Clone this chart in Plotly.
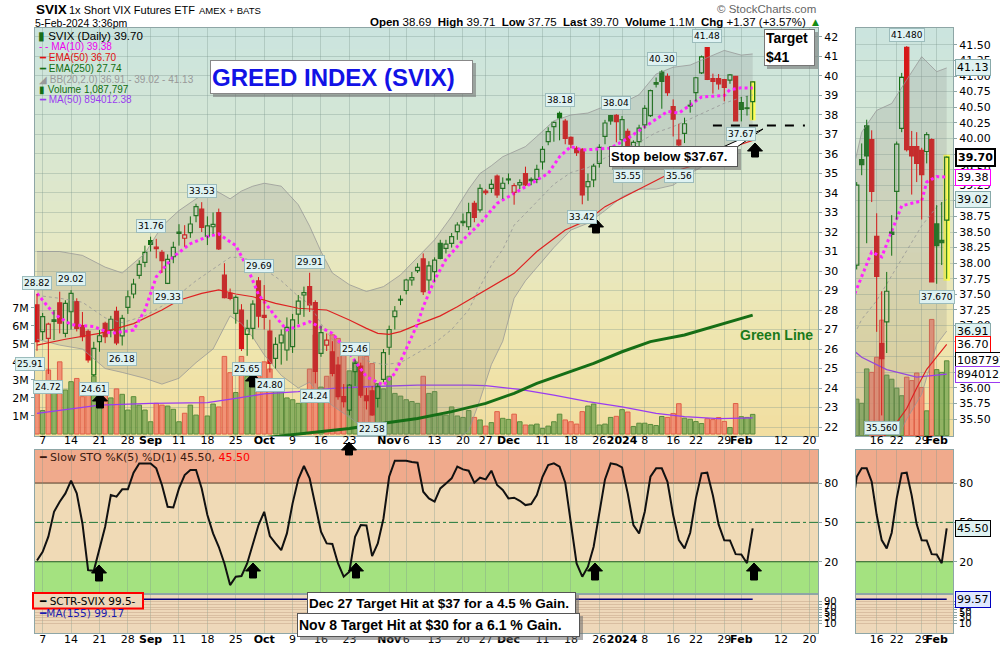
import plotly.graph_objects as go

# ---------------- data: trading-day index 0 = 4-Aug-2023 ... 126 = 5-Feb-2024 ----------------
opens = [28.26, 26.89, 26.55, 27.50, 28.37, 26.80, 27.91, 28.43, 27.20, 26.90,
         24.67, 26.38, 27.32, 26.97, 27.93, 26.67, 28.14, 28.82, 29.78, 30.44,
         31.56, 31.22, 30.96, 29.37, 30.73, 32.00, 31.68, 31.97, 32.84, 33.18,
         31.79, 32.27, 32.99, 29.79, 28.85, 27.83, 28.00, 26.75, 27.06, 29.49,
         27.72, 26.92, 25.52, 26.32, 25.95, 26.12, 27.79, 28.77, 29.20, 28.38,
         25.78, 26.20, 25.86, 25.18, 23.56, 22.87, 24.84, 25.13, 23.60, 23.85,
         23.47, 24.44, 26.09, 27.66, 28.55, 29.00, 29.54, 30.02, 30.62, 29.54,
         29.97, 31.42, 31.16, 31.42, 32.02, 32.55, 32.27, 33.47, 33.13, 34.10,
         34.24, 34.87, 34.24, 34.72, 34.03, 34.41, 35.00, 34.70, 34.70, 35.60,
         36.63, 37.40, 38.08, 37.69, 36.85, 36.29, 36.24, 34.32, 34.67, 35.52,
         36.90, 37.97, 37.98, 36.73, 37.16, 35.90, 36.63, 37.49, 37.97, 39.66,
         40.20, 39.98, 38.43, 36.71, 37.06, 38.50, 39.15, 40.16, 41.46, 39.87,
         39.87, 39.81, 39.79, 39.98, 38.63, 38.36, 38.69]
highs = [28.82, 27.85, 27.35, 28.00, 28.94, 28.50, 29.02, 28.60, 27.90, 27.00,
         26.37, 26.97, 27.40, 27.70, 28.17, 27.75, 29.00, 29.60, 30.55, 31.30,
         31.76, 31.65, 31.08, 30.85, 31.50, 32.40, 32.35, 32.80, 33.45, 33.53,
         32.80, 33.00, 33.20, 30.40, 29.10, 28.75, 28.30, 27.50, 28.50, 29.69,
         29.28, 27.50, 26.60, 27.00, 27.62, 27.80, 28.77, 29.20, 29.91, 28.50,
         27.20, 26.80, 26.40, 25.60, 24.20, 24.20, 25.46, 25.30, 24.00, 24.10,
         24.20, 26.00, 27.20, 28.20, 28.75, 29.60, 29.95, 30.40, 30.90, 30.50,
         30.70, 31.60, 31.60, 31.95, 32.50, 32.95, 33.50, 33.60, 34.45, 34.20,
         34.70, 34.95, 34.80, 35.00, 34.50, 34.70, 35.35, 34.80, 35.45, 36.40,
         37.37, 37.66, 38.18, 37.80, 36.90, 36.40, 36.30, 35.00, 35.50, 36.50,
         37.75, 38.00, 38.04, 37.95, 37.30, 36.70, 37.50, 38.50, 39.30, 39.92,
         40.30, 40.13, 38.80, 37.55, 37.86, 38.77, 39.95, 41.05, 41.48, 40.12,
         40.10, 39.85, 40.10, 40.00, 38.93, 38.98, 39.71]
lows = [25.91, 26.46, 24.72, 26.46, 26.80, 26.60, 27.00, 26.90, 26.40, 25.30,
        24.61, 25.86, 26.30, 26.60, 26.20, 26.18, 27.80, 28.60, 29.60, 30.20,
        31.00, 30.65, 29.90, 29.33, 30.40, 31.30, 31.25, 31.70, 32.50, 32.00,
        31.33, 31.90, 31.08, 28.60, 28.50, 27.30, 25.90, 25.65, 26.50, 27.10,
        27.00, 24.80, 25.00, 25.20, 25.40, 25.80, 27.28, 27.65, 27.90, 24.24,
        25.60, 25.90, 24.60, 23.40, 23.00, 22.60, 24.10, 23.50, 22.90, 22.58,
        23.00, 24.30, 25.70, 27.00, 28.25, 28.80, 29.25, 29.90, 28.77, 29.00,
        29.45, 30.60, 30.90, 31.20, 31.60, 32.30, 32.10, 32.50, 33.00, 33.90,
        34.00, 33.75, 33.70, 34.45, 33.40, 34.20, 34.35, 34.40, 34.50, 35.20,
        36.45, 36.63, 36.70, 36.50, 36.30, 35.90, 33.42, 33.60, 34.30, 35.30,
        36.50, 37.50, 36.60, 36.30, 35.55, 35.70, 36.40, 37.30, 37.90, 39.41,
        38.32, 38.98, 36.90, 35.56, 36.56, 38.12, 38.70, 40.10, 39.79, 39.10,
        39.30, 38.70, 39.60, 37.70, 37.67, 37.97, 37.75]
closes = [26.38, 27.66, 27.28, 27.42, 27.32, 28.34, 28.85, 27.06, 26.63, 25.44,
          26.03, 26.68, 26.63, 27.52, 26.32, 27.57, 28.68, 29.33, 30.34, 30.96,
          31.37, 31.15, 30.53, 30.60, 31.21, 31.93, 31.85, 32.41, 33.30, 32.24,
          32.31, 32.39, 31.13, 28.63, 28.60, 28.65, 26.03, 27.06, 28.30, 27.69,
          27.62, 25.26, 26.24, 26.72, 27.11, 27.49, 28.46, 28.89, 28.26, 24.85,
          26.84, 26.46, 24.75, 23.56, 23.30, 24.15, 25.26, 23.64, 23.35, 22.62,
          24.07, 25.81, 27.00, 27.95, 28.50, 29.54, 29.66, 30.19, 28.94, 30.26,
          30.56, 30.65, 31.38, 31.76, 32.36, 32.48, 32.99, 32.75, 34.24, 34.02,
          34.44, 33.90, 34.50, 34.67, 34.38, 34.53, 34.41, 34.63, 35.21, 36.24,
          37.15, 37.62, 37.85, 36.80, 36.51, 36.07, 33.90, 34.58, 35.38, 36.34,
          37.59, 37.70, 37.66, 37.76, 36.20, 36.60, 37.33, 38.34, 39.25, 39.58,
          39.72, 39.15, 37.79, 36.47, 37.55, 38.46, 39.91, 40.98, 39.82, 39.72,
          39.60, 39.42, 40.06, 37.70, 38.28, 38.33, 39.70]
# daily volume, millions of shares
volume_m = [2.6, 1.3, 3.55, 2.35, 4.0, 2.44, 2.9, 3.08, 2.07, 2.44,
            3.2, 1.5, 2.6, 2.0, 2.5, 2.2, 1.33, 2.07, 1.6, 1.33,
            0.68, 1.7, 1.6, 1.55, 1.37, 0.68, 1.15, 1.6, 1.05, 2.07,
            1.0, 1.66, 1.5, 4.3, 3.4, 2.3, 4.3, 3.2, 3.8, 3.5,
            4.0, 3.6, 2.4, 2.4, 2.0, 1.9, 1.7, 2.0, 3.6, 5.5,
            2.6, 3.2, 5.5, 5.3, 4.8, 3.5, 4.0, 4.4, 4.3, 3.9,
            2.8, 2.5, 3.2, 2.25, 2.1, 1.9, 1.8, 1.7, 3.2, 2.25,
            2.35, 1.05, 1.05, 1.5, 1.0, 0.92, 1.3, 0.92, 0.78, 0.44,
            0.63, 1.24, 0.87, 0.81, 1.1, 0.68, 0.5, 0.5, 0.55, 0.31,
            0.44, 0.68, 1.1, 0.78, 0.68, 0.55, 1.24, 1.55, 1.66, 0.5,
            0.55, 0.92, 0.98, 1.35, 1.22, 0.42, 0.6, 0.6, 0.53, 0.47,
            0.97, 0.92, 1.14, 1.68, 0.88, 0.82, 0.69, 0.58, 0.85, 0.8,
            0.91, 0.7, 0.36, 1.69, 0.96, 0.92, 1.087797]
# Slow stochastic %K(5) %D(1)
sto_k = [21.0, 27.6, 39.1, 58.1, 65.8, 72.1, 81.8, 72.1, 49.2, 13.6,
         13.1, 28.9, 46.7, 70.8, 69.6, 75.2, 75.2, 87.9, 95.0, 95.0,
         95.0, 91.2, 78.5, 61.9, 61.4, 75.9, 86.1, 89.9, 89.9, 75.9,
         55.6, 41.6, 31.4, 18.7, 2.2, 8.6, 9.1, 18.7, 32.7, 48.0,
         58.1, 39.6, 34.0, 28.9, 41.6, 64.5, 82.8, 93.0, 83.6, 61.9,
         42.9, 34.0, 33.5, 18.7, 8.6, 12.4, 39.1, 48.0, 47.7, 24.3,
         34.0, 53.0, 84.8, 97.0, 97.0, 97.0, 96.0, 95.5, 73.4, 68.3,
         65.8, 75.9, 79.7, 83.6, 92.5, 90.4, 89.4, 80.3, 84.1, 82.8,
         89.4, 78.5, 74.7, 68.3, 68.8, 66.5, 63.2, 64.0, 70.8, 84.8,
         93.7, 95.0, 92.5, 80.3, 49.2, 18.7, 8.6, 16.2, 31.4, 58.1,
         82.8, 95.0, 94.2, 91.9, 72.1, 48.0, 41.6, 58.1, 84.8, 91.2,
         91.2, 81.0, 55.6, 36.5, 30.2, 42.1, 68.3, 87.4, 87.9, 70.5,
         48.5, 36.3, 36.2, 25.8, 25.5, 18.9, 45.5]

# overlays, sampled at selected trading days
ma10_idx = [0, 3, 6, 10, 13, 17, 19, 21, 24, 27, 30, 32, 35, 37, 39, 42, 44, 46, 48, 50,
            52, 55, 58, 61, 63, 65, 67, 68, 70, 72, 75, 78, 81, 84, 87, 90, 92, 94, 96, 98,
            101, 104, 106, 108, 110, 111, 113, 115, 117, 119, 121, 122, 124, 126]
ma10_val = [28.85, 27.8, 27.25, 27.15, 26.8, 26.97, 28.0, 29.7, 30.73, 31.4, 31.76, 31.9, 31.3, 30.2,
            28.8, 27.66, 26.97, 27.2, 27.4, 27.1, 26.8, 25.78, 24.58, 24.15, 24.75, 26.0, 27.3,
            28.17, 29.54, 30.6, 31.59, 32.44, 33.47, 33.98, 34.5, 35.0, 35.86, 36.38, 36.2, 36.24,
            36.3, 36.8, 37.2, 37.57, 38.0, 38.18, 38.1, 38.5, 38.92, 38.96, 39.0, 39.3, 39.39, 39.38]
ema50_idx = [0, 5, 11, 17, 22, 25, 29, 32, 35, 38, 42, 46, 51, 55, 58, 60, 62, 64, 67, 71,
             74, 79, 84, 88, 93, 97, 100, 104, 108, 112, 116, 118, 120, 122, 124, 126]
ema50_val = [26.2, 26.5, 26.8, 27.3, 28.0, 28.5, 28.85, 29.03, 28.82, 28.68, 28.34, 28.09, 28.0,
             27.49, 27.06, 26.8, 26.75, 26.89, 27.25, 27.7, 28.17, 29.03, 29.88, 31.0, 32.1, 32.62,
             33.3, 33.9, 34.5, 35.09, 35.45, 35.67, 36.0, 36.3, 36.5, 36.70]
ema250_idx = [40, 46, 50, 55, 61, 67, 73, 79, 84, 88, 93, 98, 103, 108, 114, 120, 126]
ema250_val = [21.45, 21.65, 21.76, 21.93, 22.19, 22.44, 22.79, 23.21, 23.73, 24.24, 24.75, 25.26,
              25.86, 26.38, 26.72, 27.23, 27.74]
bb_idx = [0, 4, 8, 12, 15, 19, 22, 25, 28, 31, 34, 36, 38, 40, 43, 46, 48, 50, 52, 55, 58, 61,
          64, 67, 70, 73, 76, 78, 80, 82, 84, 86, 88, 91, 94, 97, 100, 103, 106, 109, 112, 115,
          118, 121, 124, 126]
bb_upper = [31.0, 31.0, 30.8, 30.2, 29.9, 30.9, 32.3, 33.1, 33.7, 34.2, 33.7, 34.1, 34.35, 34.5,
            34.35, 33.4, 32.3, 31.0, 29.9, 29.3, 28.95, 29.2, 29.8, 30.7, 31.6, 32.8, 34.2, 35.0,
            35.4, 35.86, 36.1, 36.38, 36.9, 37.7, 38.0, 38.1, 38.45, 38.6, 39.04, 40.1, 40.45,
            40.56, 40.94, 41.31, 41.07, 41.13]
bb_mid = [28.75, 28.6, 28.4, 27.6, 27.35, 27.7, 28.2, 28.8, 29.5, 30.1, 30.7, 30.7, 30.5, 30.1,
          29.5, 28.7, 28.3, 27.3, 26.5, 25.9, 25.4, 25.2, 25.3, 25.8, 26.3, 27.0, 28.0, 29.2,
          30.3, 31.1, 32.35, 32.95, 33.55, 34.45, 35.05, 35.3, 35.8, 36.2, 36.6, 37.1, 37.4,
          37.8, 38.2, 38.6, 38.9, 39.02]
bb_lower = [26.5, 26.2, 26.0, 25.0, 24.8, 24.5, 24.2, 24.5, 25.3, 26.0, 27.7, 27.3, 26.6, 25.7,
            24.65, 24.0, 24.3, 23.6, 23.1, 22.5, 21.85, 21.2, 20.8, 20.9, 21.0, 21.2, 21.8, 23.4,
            25.2, 26.4, 28.6, 29.5, 30.2, 31.2, 32.1, 32.45, 33.1, 33.8, 34.2, 34.2, 34.4, 35.0,
            35.5, 35.9, 36.7, 36.91]
vol_ma_idx = [0, 11, 20, 30, 35, 40, 46, 52, 58, 64, 67, 76, 79, 85, 91, 97, 103, 109, 114, 120, 126]
vol_ma_val = [1.14, 1.6, 1.7, 1.74, 1.98, 2.22, 2.35, 2.53, 2.62, 2.68, 2.71, 2.71, 2.68, 2.47,
              2.16, 1.79, 1.51, 1.14, 0.96, 0.85, 0.89401238]
sctr_idx = [0, 30, 60, 90, 126]
sctr_val = [99.5, 99.5, 99.5, 99.5, 99.5]

tick_idx = [1, 6, 11, 16, 20, 25, 30, 35, 40, 45, 50, 55, 62, 65, 70, 75, 79, 83, 89, 94, 99,
            103, 107, 112, 116, 121, 124, 131, 136]
tick_lbl = ['7', '14', '21', '28', 'Sep', '11', '18', '25', 'Oct', '9', '16', '23', 'Nov', '6',
            '13', '20', '27', 'Dec', '11', '18', '26', '2024', '8', '16', '22', '29', 'Feb', '12', '20']
mini_tick_idx = [112, 116, 121, 124]
mini_tick_lbl = ['16', '22', '29', 'Feb']

label_high_idx = [0, 6, 20, 29, 39, 48, 56, 92, 102, 110, 118]
label_low_idx = [0, 2, 10, 15, 23, 37, 41, 49, 59, 96, 104, 113, 124]
STOP = 37.67

# ---------------- geometry helpers ----------------
W, H = 1000, 650
def px(x): return x / W
def py(y): return 1 - y / H

MX = [px(35), px(818)]
MY = [py(436), py(28)]
STY = [py(594), py(450)]
SCY = [py(633), py(594)]
NX = [px(855.7), px(953)]

GREEN = 'rgb(20,112,20)'
RED = 'rgb(214,24,24)'
N = len(closes)
MONTHS = {'Sep', 'Oct', 'Nov', 'Dec', '2024', 'Feb'}

def bold_months(lbls):
    return ['<b>%s</b>' % t if t in MONTHS else t for t in lbls]

fig = go.Figure()

# ---------------- volume bars ----------------
def vol_bars(idx, xa, ya, width):
    fills, edges = [], []
    for i in idx:
        up = closes[i] >= (closes[i - 1] if i > 0 else opens[i])
        fills.append('rgba(128,170,88,0.85)' if up else 'rgba(240,136,110,0.88)')
        edges.append('rgb(92,140,60)' if up else 'rgb(224,96,72)')
    fig.add_trace(go.Bar(x=list(idx), y=[volume_m[i] for i in idx], width=width,
                         marker=dict(color=fills, line=dict(color=edges, width=1)),
                         xaxis=xa, yaxis=ya, hoverinfo='skip'))

# ---------------- candles (bodies as floating bars, wicks as segments) ----------------
def candles(idx, xa, ya, width):
    base, hgt, fills, edges = [], [], [], []
    wick = {GREEN: ([], []), RED: ([], [])}
    for i in idx:
        o, h, l, c = opens[i], highs[i], lows[i], closes[i]
        prev = closes[i - 1] if i > 0 else o
        col = GREEN if c >= prev else RED
        top, bot = max(o, c), min(o, c)
        base.append(bot)
        hgt.append(max(top - bot, 0.035))
        fills.append(col if c < o else 'rgba(0,0,0,0)')
        edges.append(col)
        wx, wy = wick[col]
        wx += [i, i, None, i, i, None]
        wy += [h, top, None, bot, l, None]
    for col, (wx, wy) in wick.items():
        fig.add_trace(go.Scatter(x=wx, y=wy, mode='lines', line=dict(color=col, width=1),
                                 xaxis=xa, yaxis=ya, hoverinfo='skip'))
    fig.add_trace(go.Bar(x=list(idx), y=hgt, base=base, width=width,
                         marker=dict(color=fills, line=dict(color=edges, width=1.2)),
                         xaxis=xa, yaxis=ya, hoverinfo='skip'))

def highlight_last(xa, ya, width):
    # yellow marker column behind the latest session's range
    last = N - 1
    fig.add_trace(go.Bar(x=[last], y=[highs[last] - lows[last] + 0.06], base=[lows[last] - 0.03],
                         width=width, marker=dict(color='#ffff55', line=dict(width=0)),
                         xaxis=xa, yaxis=ya, hoverinfo='skip'))

def overlays(xa, ya, lo=0):
    def sel(ix, vals):
        pts = [(i, v) for i, v in zip(ix, vals) if i >= lo - 3]
        return [p[0] for p in pts], [p[1] for p in pts]
    x, y = sel(bb_idx, bb_upper)
    fig.add_trace(go.Scatter(x=x, y=y, mode='lines', line=dict(color='rgba(150,150,150,0.75)', width=1),
                             xaxis=xa, yaxis=ya, hoverinfo='skip'))
    x, y = sel(bb_idx, bb_lower)
    fig.add_trace(go.Scatter(x=x, y=y, mode='lines', line=dict(color='rgba(150,150,150,0.75)', width=1),
                             fill='tonexty', fillcolor='rgba(130,130,130,0.2)',
                             xaxis=xa, yaxis=ya, hoverinfo='skip'))
    x, y = sel(bb_idx, bb_mid)
    fig.add_trace(go.Scatter(x=x, y=y, mode='lines', line=dict(color='rgba(150,150,150,0.8)', width=1, dash='dot'),
                             xaxis=xa, yaxis=ya, hoverinfo='skip'))
    x, y = sel(ema250_idx, ema250_val)
    fig.add_trace(go.Scatter(x=x, y=y, mode='lines', line=dict(color='rgb(22,110,22)', width=3),
                             xaxis=xa, yaxis=ya, hoverinfo='skip'))
    x, y = sel(ema50_idx, ema50_val)
    fig.add_trace(go.Scatter(x=x, y=y, mode='lines', line=dict(color='rgb(222,34,34)', width=1.2),
                             xaxis=xa, yaxis=ya, hoverinfo='skip'))
    x, y = sel(ma10_idx, ma10_val)
    fig.add_trace(go.Scatter(x=x, y=y, mode='lines', line=dict(color='#ff22ff', width=3, dash='dot'),
                             xaxis=xa, yaxis=ya, hoverinfo='skip'))

# main panel
vol_bars(range(N), 'x', 'y', 0.8)
fig.add_trace(go.Scatter(x=vol_ma_idx, y=vol_ma_val, mode='lines', line=dict(color='#9a3cf0', width=1.3),
                         xaxis='x', yaxis='y', hoverinfo='skip'))
overlays('x', 'y2')
highlight_last('x', 'y2', 1.0)
candles(range(N), 'x', 'y2', 0.7)

# mini panel (last weeks, enlarged)
MINI = range(107, N)
vol_bars(MINI, 'x4', 'y5', 0.9)
fig.add_trace(go.Scatter(x=vol_ma_idx, y=vol_ma_val, mode='lines', line=dict(color='#9a3cf0', width=1.3),
                         xaxis='x4', yaxis='y5', hoverinfo='skip'))
overlays('x4', 'y6', lo=107)
highlight_last('x4', 'y6', 1.3)
candles(MINI, 'x4', 'y6', 0.85)

# stochastic
fig.add_trace(go.Scatter(x=list(range(N)), y=sto_k, mode='lines', line=dict(color='#111', width=2),
                         xaxis='x2', yaxis='y3', hoverinfo='skip'))
fig.add_trace(go.Scatter(x=list(range(N)), y=sto_k, mode='lines', line=dict(color='#111', width=2),
                         xaxis='x5', yaxis='y7', hoverinfo='skip'))
# SCTR
fig.add_trace(go.Scatter(x=sctr_idx, y=sctr_val, mode='lines', line=dict(color='#000080', width=1.4),
                         xaxis='x3', yaxis='y4', hoverinfo='skip'))
fig.add_trace(go.Scatter(x=sctr_idx, y=sctr_val, mode='lines', line=dict(color='#000080', width=1.4),
                         xaxis='x6', yaxis='y8', hoverinfo='skip'))

# ---------------- shapes ----------------
shapes = []
GRAD = [(0.0, (242, 222, 160)), (0.26, (238, 230, 176)), (0.5, (228, 232, 198)),
        (0.77, (212, 230, 213)), (1.0, (203, 228, 222))]
def grad_color(t):
    for (t0, c0), (t1, c1) in zip(GRAD[:-1], GRAD[1:]):
        if t <= t1:
            f = (t - t0) / (t1 - t0)
            return 'rgb(%d,%d,%d)' % tuple(round(a + (b - a) * f) for a, b in zip(c0, c1))
    return 'rgb(%d,%d,%d)' % GRAD[-1][1]

NB = 40
for xr, yr in (('x domain', 'y domain'), ('x4 domain', 'y5 domain')):
    for k in range(NB):
        shapes.append(dict(type='rect', xref=xr, yref=yr, x0=0, x1=1, y0=k / NB, y1=(k + 1) / NB + 0.002,
                           fillcolor=grad_color((k + 0.5) / NB), line=dict(width=0), layer='below'))

for xr, yr in (('x2 domain', 'y3'), ('x5 domain', 'y7')):
    shapes.append(dict(type='rect', xref=xr, yref=yr, x0=0, x1=1, y0=80, y1=105.2,
                       fillcolor='rgb(240,170,140)', line=dict(width=0), layer='below'))
    shapes.append(dict(type='rect', xref=xr, yref=yr, x0=0, x1=1, y0=20, y1=80,
                       fillcolor='rgb(240,218,182)', line=dict(width=0), layer='below'))
    shapes.append(dict(type='rect', xref=xr, yref=yr, x0=0, x1=1, y0=-4.6, y1=20,
                       fillcolor='rgb(164,226,128)', line=dict(width=0), layer='below'))
    shapes.append(dict(type='line', xref=xr, yref=yr, x0=0, x1=1, y0=80, y1=80,
                       line=dict(color='rgb(80,60,40)', width=1), layer='below'))
    shapes.append(dict(type='line', xref=xr, yref=yr, x0=0, x1=1, y0=20, y1=20,
                       line=dict(color='rgb(30,90,30)', width=1), layer='below'))
    shapes.append(dict(type='line', xref=xr, yref=yr, x0=0, x1=1, y0=50, y1=50,
                       line=dict(color='rgb(30,120,60)', width=1, dash='dashdot'), layer='below'))
for xr, yr in (('x3 domain', 'y4 domain'), ('x6 domain', 'y8 domain')):
    shapes.append(dict(type='rect', xref=xr, yref=yr, x0=0, x1=1, y0=0, y1=1,
                       fillcolor='rgb(238,216,186)', line=dict(width=0), layer='below'))

# stop level
shapes.append(dict(type='line', xref='x', yref='y2', x0=119, x1=135.2, ysizemode='pixel', yanchor=STOP,
                   y0=-4, y1=-4, line=dict(color='black', width=2, dash='dash')))

def P(x, y):
    return '%.5f,%.5f' % (px(x), py(y))

def arrow(cx, top, bot):
    hw, sw, hh = 7.5, 3.5, 8
    pts = [(cx, top), (cx + hw, top + hh), (cx + sw, top + hh), (cx + sw, bot), (cx - sw, bot),
           (cx - sw, top + hh), (cx - hw, top + hh)]
    shapes.append(dict(type='path', xref='paper', yref='paper',
                       path='M ' + ' L '.join(P(*p) for p in pts) + ' Z',
                       fillcolor='black', line=dict(color='black', width=1)))

for a in [(100, 393, 408), (253, 373, 387), (349, 442, 455), (596, 219, 233), (755, 143, 157),
          (99, 565, 581), (253, 563, 578), (356, 563, 578), (595, 563, 580), (754, 563, 580)]:
    arrow(*a)

def shadow(x0, y0, x1, y1):
    shapes.append(dict(type='rect', xref='paper', yref='paper', x0=px(x0 + 3), x1=px(x1 + 3),
                       y0=py(y1 + 3), y1=py(y0 + 3), fillcolor='rgba(110,110,110,0.55)',
                       line=dict(width=0)))

shadow(210, 60, 473, 94)
shadow(764, 29, 815, 66)
shadow(609, 146, 738, 167)
shadow(307, 592, 576, 614)
shadow(297, 613, 580, 637)
# callout pointer of the stop note
shapes.append(dict(type='path', xref='paper', yref='paper',
                   path='M %s L %s L %s Z' % (P(723, 147), P(763, 129), P(737, 147)),
                   fillcolor='white', line=dict(color='black', width=1)))
# red frame round the SCTR caption
shapes.append(dict(type='rect', xref='paper', yref='paper', x0=px(33), x1=px(143), y0=py(608.5),
                   y1=py(593), line=dict(color='red', width=2), fillcolor='rgb(238,216,186)'))

# ---------------- annotations ----------------
ann = []
SANS = 'Liberation Sans'

def txt(x, y, s, size=11, color='black', family='DejaVu Sans', xanchor='left', **kw):
    d = dict(x=px(x), y=py(y), xref='paper', yref='paper', text=s, showarrow=False,
             font=dict(size=size, color=color, family=family), xanchor=xanchor, yanchor='middle')
    d.update(kw)
    ann.append(d)

def box(cx, cy, s, size, w, h, color='black', border='#555'):
    ann.append(dict(x=px(cx), y=py(cy), xref='paper', yref='paper', text=s, showarrow=False,
                    xanchor='center', yanchor='middle', align='left',
                    font=dict(size=size, color=color, family=SANS), bgcolor='white',
                    bordercolor=border, borderwidth=1, width=w, height=h, borderpad=1))

txt(34, 9.5, '<b>SVIX</b>', 13.5, family=SANS)
txt(67, 10, '1x Short VIX Futures ETF', 11, family=SANS)
txt(197, 10.5, 'AMEX + BATS', 9.5, family=SANS)
txt(33, 23, '5-Feb-2024 3:36pm', 10.5, family=SANS)
chg = closes[-1] - closes[-2]
txt(808, 22.5, '<b>Open</b> %.2f  <b>High</b> %.2f  <b>Low</b> %.2f  <b>Last</b> %.2f  <b>Volume</b> %.1fM  '
    '<b>Chg</b> %+.2f (%+.2f%%)' % (opens[-1], highs[-1], lows[-1], closes[-1], volume_m[-1], chg,
                                    chg / closes[-2] * 100), 11.5, family=SANS, xanchor='right')
txt(810, 22, '▲', 9, color='rgb(20,140,20)', family='DejaVu Sans')
txt(818, 9.5, '© StockCharts.com', 11.5, color='#666', family=SANS, xanchor='right')

# in-chart legend
LEG = 10
txt(36, 35.5, '<span style="color:#1a6e1a">▮</span> SVIX (Daily) %.2f' % closes[-1], 11.5, family=SANS)
txt(37, 46.5, '- - MA(10) %.2f' % ma10_val[-1], LEG, color='#ee00ee', family=SANS)
txt(37, 57.3, '━ EMA(50) %.2f' % ema50_val[-1], LEG, color='#e01010', family=SANS)
txt(37, 68.3, '━ EMA(250) %.2f' % ema250_val[-1], LEG, color='#126e12', family=SANS)
txt(37, 79, '◢ BB(20,2.0) %.2f - %.2f - %.2f' % (bb_lower[-1], bb_mid[-1], bb_upper[-1]), LEG,
    color='#999', family=SANS)
txt(37, 89.5, '▮ Volume {:,}'.format(round(volume_m[-1] * 1e6)), LEG, color='#126e12', family=SANS)
txt(37, 99.5, '━ MA(50) %.2f' % (vol_ma_val[-1] * 1e6), LEG, color='#9a3cf0', family=SANS)

# value labels at swing highs / lows
def plabel(i, v, above, xa='x', ya='y2', fmt='%.2f', xshift=0):
    ann.append(dict(x=i, y=v, xref=xa, yref=ya, text=fmt % v, showarrow=False,
                    xanchor='center', yanchor='middle',
                    yshift=11 if above else -13, xshift=xshift,
                    bgcolor='#def2f2', bordercolor='#9cbcbc', borderwidth=1, borderpad=1,
                    font=dict(size=9, family='DejaVu Sans', color='black')))

for i in label_high_idx:
    plabel(i, highs[i], True)
for i in label_low_idx:
    plabel(i, lows[i], False, xshift=-7 if i == 0 else 0)
plabel(118, highs[118], True, 'x4', 'y6', '%.3f')
plabel(124, lows[124], False, 'x4', 'y6', '%.3f')
plabel(113, lows[113], False, 'x4', 'y6', '%.3f')

# notes
box(341.5, 77, '<b>GREED INDEX (SVIX)</b>', 24, 259, 30, color='#1212e6', border='#888')
box(789.5, 47.5, '<b>Target<br>$41</b>', 14, 47, 33, border='#777')
box(673.5, 156.5, '<b>Stop below $%.2f.</b>' % STOP, 13, 125, 17)
box(441.5, 603, '<b>Dec 27 Target Hit at $37 for a 4.5 % Gain.</b>', 13.5, 265, 18)
box(438.5, 625, '<b>Nov 8 Target Hit at $30 for a 6.1 % Gain.</b>', 14, 279, 20)
txt(738, 335, '<b>Green Line</b>', 14, color='rgb(26,122,26)', family=SANS)

# indicator captions
txt(37, 457, '━ Slow STO %%K(5) %%D(1) %.2f, <span style="color:red">%.2f</span>' % (sto_k[-1], sto_k[-1]),
    11, color='#3a1a10')
txt(37, 600.5, '━ SCTR-SVIX %.1f-' % sctr_val[-1], 10.5)
txt(37, 612.5, '━MA(155) 99.17', 10.5, color='#1a1ab0')

# value tags to the right of the mini panel
def tag(y, yref, s, bg, border, bold=False, width=1):
    ann.append(dict(x=px(953), y=y, xref='paper', yref=yref, text=('<b>%s</b>' % s) if bold else s,
                    showarrow=False, xanchor='left', yanchor='middle', xshift=2, bgcolor=bg,
                    bordercolor=border, borderwidth=width, borderpad=1,
                    font=dict(size=11, family='DejaVu Sans', color='black')))

tag(bb_upper[-1], 'y6', '%.2f' % bb_upper[-1], '#dff2f2', '#8aa')
tag(closes[-1], 'y6', '%.2f' % closes[-1], 'white', 'black', bold=True, width=2)
tag(ma10_val[-1], 'y6', '%.2f' % ma10_val[-1], 'white', '#ff00ff')
tag(bb_mid[-1], 'y6', '%.2f' % bb_mid[-1], '#dff2f2', '#8aa')
tag(bb_lower[-1], 'y6', '%.2f' % bb_lower[-1], '#dff2f2', '#8aa')
tag(ema50_val[-1], 'y6', '%.2f' % ema50_val[-1], 'white', 'red')
tag(volume_m[-1], 'y5', '%d.' % round(volume_m[-1] * 1e6), 'white', 'black')
tag(vol_ma_val[-1], 'y5', '%.1f' % (vol_ma_val[-1] * 1e6), 'white', '#9a3cf0')
tag(sto_k[-1], 'y7', '%.2f' % sto_k[-1], '#dff2f2', 'black')
tag(sctr_val[-1], 'y8', '99.57', '#dfe8ff', '#0000c0')

# ---------------- axes ----------------
GRID = 'rgba(120,150,140,0.33)'
EDGE = '#8ea6a6'
TF = dict(size=11, family='DejaVu Sans', color='black')
common_x = dict(tickvals=tick_idx, ticktext=bold_months(tick_lbl), showgrid=True, gridcolor=GRID,
                zeroline=False, showline=True, linecolor=EDGE, mirror=True, ticks='', tickfont=TF,
                tickangle=0, range=[-0.35, 137.5])
mini_x = dict(tickvals=mini_tick_idx, ticktext=bold_months(mini_tick_lbl), showgrid=True, gridcolor=GRID,
              zeroline=False, showline=True, linecolor=EDGE, mirror=True, ticks='', tickfont=TF,
              tickangle=0, range=[107.8, 127.26])
def no_range(d):
    return {k: v for k, v in d.items() if k != 'range'}

fig.update_layout(
    width=W, height=H, margin=dict(l=0, r=0, t=0, b=0), paper_bgcolor='white',
    plot_bgcolor='rgba(0,0,0,0)', showlegend=False, hovermode=False, barmode='overlay',
    xaxis=dict(domain=MX, anchor='y', **common_x, ticklabelstandoff=-6),
    yaxis=dict(domain=MY, anchor='x', side='left', range=[-0.11, 22.5], tickvals=[1, 2, 3, 4, 5, 6, 7],
               ticktext=['1M', '2M', '3M', '4M', '5M', '6M', '7M'], showgrid=False, zeroline=False,
               showline=False, ticks='outside', ticklen=3, tickcolor=EDGE, tickfont=TF),
    yaxis2=dict(overlaying='y', anchor='x', side='right', range=[21.54, 42.46],
                tickvals=list(range(22, 43)), showgrid=True, gridcolor=GRID, zeroline=False,
                showline=True, linecolor=EDGE, mirror=True, ticks='outside', ticklen=3,
                tickcolor=EDGE, tickfont=TF),
    xaxis2=dict(domain=MX, anchor='y3', matches='x', **no_range(common_x), showticklabels=False),
    yaxis3=dict(domain=STY, anchor='x2', side='right', range=[-4.6, 105.2], tickvals=[20, 50, 80],
                showgrid=False, zeroline=False, showline=True, linecolor=EDGE, mirror=True,
                ticks='outside', ticklen=3, tickcolor=EDGE, tickfont=TF),
    xaxis3=dict(domain=MX, anchor='y4', matches='x', **no_range(common_x), ticklabelstandoff=-4),
    yaxis4=dict(domain=SCY, anchor='x3', side='right', range=[-26, 119],
                tickvals=[10, 20, 30, 40, 50, 60, 70, 80, 90],
                ticktext=['10', '', '30', '', '50', '', '70', '', '90'],
                showgrid=True, gridcolor='rgba(190,160,130,0.45)', zeroline=False, showline=True,
                linecolor=EDGE, mirror=True, ticks='outside', ticklen=3, tickcolor=EDGE,
                tickfont=dict(size=10, family='DejaVu Sans', color='black')),
    xaxis4=dict(domain=NX, anchor='y5', **mini_x, ticklabelstandoff=-6),
    yaxis5=dict(domain=MY, anchor='x4', range=[-0.006, 5.93], showgrid=False, zeroline=False,
                showticklabels=False, showline=False, ticks=''),
    yaxis6=dict(overlaying='y5', anchor='x4', side='right', range=[35.23, 41.77],
                tickvals=[35.5 + 0.25 * k for k in range(25)],
                ticktext=['%.2f' % (35.5 + 0.25 * k) for k in range(25)],
                showgrid=True, gridcolor=GRID, zeroline=False, showline=True, linecolor=EDGE,
                mirror=True, ticks='outside', ticklen=3, tickcolor=EDGE, tickfont=TF),
    xaxis5=dict(domain=NX, anchor='y7', matches='x4', **no_range(mini_x), showticklabels=False),
    yaxis7=dict(domain=STY, anchor='x5', side='right', range=[-4.6, 105.2], tickvals=[20, 50, 80],
                showgrid=False, zeroline=False, showline=True, linecolor=EDGE, mirror=True,
                ticks='outside', ticklen=3, tickcolor=EDGE, tickfont=TF),
    xaxis6=dict(domain=NX, anchor='y8', matches='x4', **no_range(mini_x), ticklabelstandoff=-4),
    yaxis8=dict(domain=SCY, anchor='x6', side='right', range=[-26, 119],
                tickvals=[10, 20, 30, 40, 50, 60, 70, 80, 90],
                ticktext=['10', '', '30', '', '50', '', '70', '', '90'],
                showgrid=True, gridcolor='rgba(190,160,130,0.45)', zeroline=False, showline=True,
                linecolor=EDGE, mirror=True, ticks='outside', ticklen=3, tickcolor=EDGE,
                tickfont=dict(size=10, family='DejaVu Sans', color='black')),
    shapes=shapes, annotations=ann,
)

fig.write_html('out.html')
